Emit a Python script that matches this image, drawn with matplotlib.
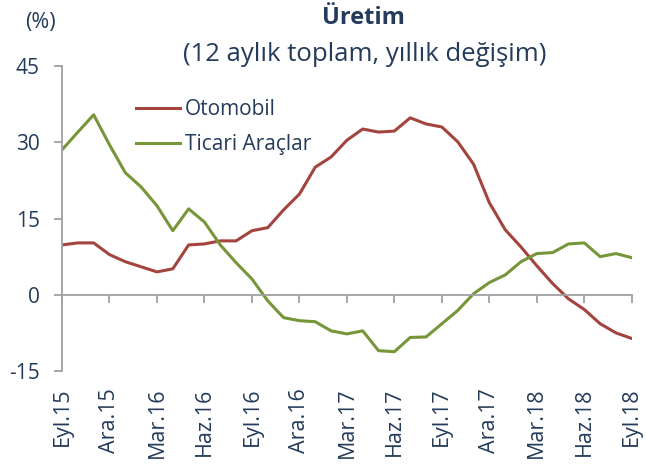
import matplotlib.pyplot as plt

plt.rcParams['font.family'] = ['Open Sans', 'DejaVu Sans']

# aylar: Eyl.15 - Eyl.18
aylar = ['Eyl.15', 'Eki.15', 'Kas.15', 'Ara.15', 'Oca.16', 'Şub.16', 'Mar.16', 'Nis.16',
         'May.16', 'Haz.16', 'Tem.16', 'Ağu.16', 'Eyl.16', 'Eki.16', 'Kas.16', 'Ara.16',
         'Oca.17', 'Şub.17', 'Mar.17', 'Nis.17', 'May.17', 'Haz.17', 'Tem.17', 'Ağu.17',
         'Eyl.17', 'Eki.17', 'Kas.17', 'Ara.17', 'Oca.18', 'Şub.18', 'Mar.18', 'Nis.18',
         'May.18', 'Haz.18', 'Tem.18', 'Ağu.18', 'Eyl.18']

otomobil = [9.8, 10.2, 10.2, 7.9, 6.5, 5.5, 4.5, 5.1, 9.8, 10.0, 10.6, 10.6,
            12.6, 13.2, 16.7, 19.8, 25.1, 27.1, 30.4, 32.6, 32.0, 32.2, 34.8, 33.6,
            33.0, 30.1, 25.7, 18.1, 12.8, 9.4, 5.7, 2.2, -0.8, -2.9, -5.7, -7.5, -8.6]

ticari = [28.5, 32.0, 35.4, 29.5, 24.0, 21.2, 17.5, 12.6, 16.9, 14.3, 9.8, 6.3,
          3.1, -1.2, -4.5, -5.1, -5.3, -7.1, -7.7, -7.1, -11.0, -11.2, -8.4, -8.3,
          -5.7, -3.1, 0.2, 2.4, 3.9, 6.5, 8.1, 8.3, 10.0, 10.2, 7.5, 8.1, 7.3]

y_ticks = [-15, 0, 15, 30, 45]

yazi_rengi = '#243B5A'
eksen_rengi = '#A0A0A0'

fig = plt.figure(figsize=(6.46, 4.70), dpi=100)
ax = fig.add_axes([0.096, 0.2106, 0.882, 0.649])

x = list(range(len(aylar)))
ax.plot(x, otomobil, color='#A4443E', lw=2.2, label='Otomobil')
ax.plot(x, ticari, color='#77963A', lw=2.2, label='Ticari Araçlar')

ax.set_xlim(0, len(aylar) - 1)
ax.set_ylim(-15, 45)
ax.set_yticks(y_ticks)
ax.set_yticklabels([str(v) for v in y_ticks])

# x ekseni sıfır çizgisinde, etiketler altta
ax.spines['bottom'].set_position(('data', 0))
ax.spines['top'].set_visible(False)
ax.spines['right'].set_visible(False)
for s in ['bottom', 'left']:
    ax.spines[s].set_color(eksen_rengi)
    ax.spines[s].set_linewidth(1.3)

ax.set_xticks(x[::3])
ax.set_xticklabels(aylar[::3], rotation=90, va='top', ha='center')
ax.tick_params(axis='x', length=6, width=1.3, color=eksen_rengi, pad=61,
               labelsize=15.5, labelcolor=yazi_rengi)
ax.tick_params(axis='y', length=6, width=1.3, color=eksen_rengi, pad=10,
               labelsize=15, labelcolor=yazi_rengi)

leg = ax.legend(loc='center left', bbox_to_anchor=(0.13, 0.80), frameon=False,
                borderpad=0, borderaxespad=0, handlelength=2.1,
                handletextpad=0.25, labelspacing=0.68, fontsize=15)
for t in leg.get_texts():
    t.set_color(yazi_rengi)

fig.text(0.562, 0.962, 'Üretim', ha='center', va='center', fontsize=17,
         fontweight='bold', color=yazi_rengi)
fig.text(0.564, 0.883, '(12 aylık toplam, yıllık değişim)', ha='center',
         va='center', fontsize=18.5, color=yazi_rengi)
fig.text(0.063, 0.952, '(%)', ha='center', va='center', fontsize=15.5,
         color=yazi_rengi)

fig.savefig('out.png', dpi=100)
